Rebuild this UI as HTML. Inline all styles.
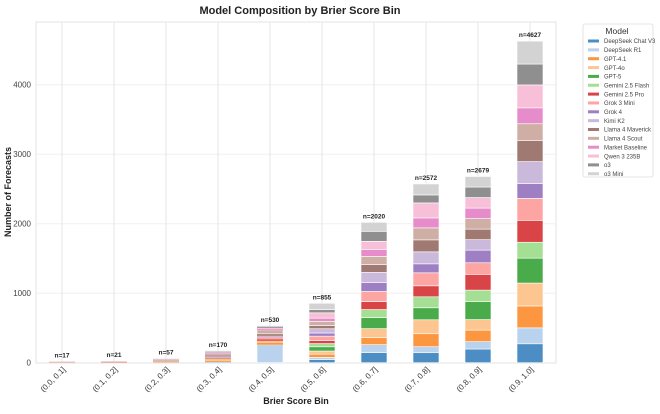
<!DOCTYPE html>
<html><head><meta charset="utf-8"><style>
html,body{margin:0;padding:0;background:#fff;}
svg text{font-family:"Liberation Sans",Arial,sans-serif;}
</style></head><body>
<svg id="s" width="660" height="409" xmlns="http://www.w3.org/2000/svg">
<rect x="0" y="0" width="660" height="409" fill="#fff"/>
<text x="300" y="14" font-size="11" font-weight="bold" text-anchor="middle" fill="#222">Model Composition by Brier Score Bin</text>
<rect x="36" y="22" width="520" height="341" fill="#fff" stroke="#e3e3e3" stroke-width="1"/>
<g id="grid"></g>
<g id="bars"></g>
<text x="11" y="192" font-size="9" font-weight="bold" fill="#222" text-anchor="middle" transform="rotate(-90 11 192)">Number of Forecasts</text>
<text x="296" y="404" font-size="9" font-weight="bold" fill="#222" text-anchor="middle">Brier Score Bin</text>
<g id="leg"></g>
</svg>
<script>
const NS="http://www.w3.org/2000/svg";
function el(t,a,p,txt){const e=document.createElementNS(NS,t);for(const k in a)e.setAttribute(k,a[k]);if(txt!==undefined)e.textContent=txt;p.appendChild(e);return e;}
const grid=document.getElementById('grid'),bars=document.getElementById('bars'),leg=document.getElementById('leg');
const y0=362.7,k=0.0695;
for(const v of [0,1000,2000,3000,4000]){const y=y0-v*k;
 if(v>0)el('line',{x1:36,x2:556,y1:y,y2:y,stroke:'#f0f0f0','stroke-width':1},grid);
 el('text',{x:31,y:y+3,'font-size':8,'text-anchor':'end',fill:'#444'},grid,String(v));}
const cols=['#4c8ec4','#b9d3ee','#fd9640','#fdc690','#4aab4a','#a4df94','#d94447','#fca5a3','#9f7fc4','#cbb9dc','#a07a72','#cfaea6','#e68ccb','#f8bfd8','#8f8f8f','#d3d3d3'];
const names=['DeepSeek Chat V3','DeepSeek R1','GPT-4.1','GPT-4o','GPT-5','Gemini 2.5 Flash','Gemini 2.5 Pro','Grok 3 Mini','Grok 4','Kimi K2','Llama 4 Maverick','Llama 4 Scout','Market Baseline','Qwen 3 235B','o3','o3 Mini'];
const labels=['(0.0, 0.1]','(0.1, 0.2]','(0.2, 0.3]','(0.3, 0.4]','(0.4, 0.5]','(0.5, 0.6]','(0.6, 0.7]','(0.7, 0.8]','(0.8, 0.9]','(0.9, 1.0]'];
const ns=[17,21,57,170,530,855,2020,2572,2679,4627];
const H=[
 [0,0,0,.2,0,0,.2,.2,0,0,0,.2,0,0,0,.2],
 [0,0,.2,.2,0,0,.2,.2,0,.2,0,.2,0,0,0,.2],
 [0,0,.4,.5,0,.3,.3,.5,0,.3,.3,.5,.2,.3,0,.4],
 [0,.8,1,1.5,.2,.3,.5,1,.2,.8,.8,1.5,.5,.8,.3,1.6],
 [0,18,2,2,0,0,1.5,2,0,1.5,2,4,1,1,1,1],
 [3,2,3,3,4,3,3,4,3,4,3,4,3,5,3,6],
 [10,8,7,9,11,8,8,10,9,10,8,8,7,8,10,9],
 [10,6,13,14,12,11,11,13,9,12,12,12,10,15,8,11],
 [13,7,11,10,17,11,15,11,12,10,10,10,10,10,10,10],
 [19,16,22,23,25,16,22,22,15,22,21,17,16,23,21,23]];
for(let i=0;i<10;i++){const cx=62+i*52;
 el('line',{x1:cx,x2:cx,y1:22,y2:362.7,stroke:'#e6e6e6','stroke-width':1},grid);
 const tot=ns[i]*k;let sum=H[i].reduce((a,b)=>a+b,0);const sc=sum>0?tot/sum:0;
 let y=y0;
 for(let j=0;j<16;j++){const h=H[i][j]*sc;if(h<=0)continue;
  el('rect',{x:cx-13,y:y-h,width:26,height:h,fill:cols[j],stroke:'#fff','stroke-width':h>2?0.6:0},bars);y-=h;}
 el('text',{x:cx,y:y0-tot-4,'font-size':6.5,'font-weight':'bold','text-anchor':'middle',fill:'#222'},bars,'n='+ns[i]);
 const tx=cx+4,ty=370;
 el('text',{x:tx,y:ty,'font-size':8,'text-anchor':'end',fill:'#333',transform:`rotate(-45 ${tx} ${ty})`},bars,labels[i]);
}
el('rect',{x:583,y:24,width:70,height:153,fill:'#fff',stroke:'#dcdcdc','stroke-width':0.8,rx:2},leg);
el('text',{x:617,y:34,'font-size':8.5,'text-anchor':'middle',fill:'#333'},leg,'Model');
for(let j=0;j<16;j++){const y=41+j*8.85;
 el('rect',{x:588,y:y-1.5,width:11,height:3,fill:cols[j]},leg);
 el('text',{x:604,y:y+2.2,'font-size':6,fill:'#444'},leg,names[j]);}
</script>
</body></html>
